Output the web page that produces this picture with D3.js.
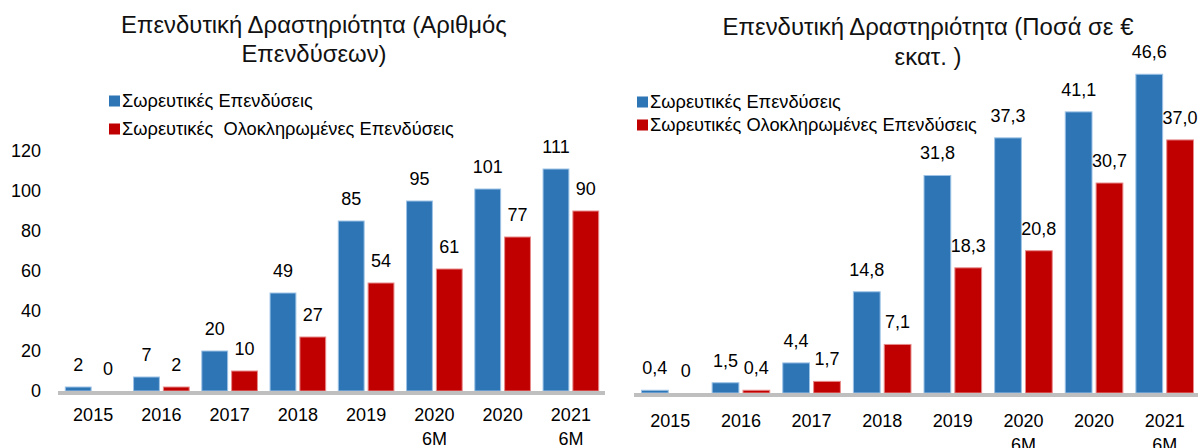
<!DOCTYPE html>
<html>
<head>
<meta charset="utf-8">
<script src="https://cdn.jsdelivr.net/npm/d3@7"></script>
<style>
  body { margin: 0; background: #fff; }
  svg { font-family: "Liberation Sans", Arial, sans-serif; fill: #000; }
  .label { font-size: 18px; text-anchor: middle; }
  .axis text { font-size: 18px; fill: #000; }
  .legend text { white-space: pre; }
</style>
</head>
<body>
<svg width="1198" height="448"></svg>
<script>
const categories = ["2015", "2016", "2017", "2018", "2019", "2020 6M", "2020", "2021 6M"];
const countTotal = [2, 7, 20, 49, 85, 95, 101, 111];
const countDone = [0, 2, 10, 27, 54, 61, 77, 90];
const amountTotal = [0.4, 1.5, 4.4, 14.8, 31.8, 37.3, 41.1, 46.6];
const amountDone = [0, 0.4, 1.7, 7.1, 18.3, 20.8, 30.7, 37.0];
const countTicks = [0, 20, 40, 60, 80, 100, 120];
const seriesKeys = ["total", "done"];
const colors = {total: "#2e75b6", done: "#c00000"};
const edges = {total: "#9dc3e6", done: "#e88a8a"};

const svg = d3.select("svg");

const commaFmt = (v) => v === 0 ? "0" : v.toFixed(1).replace(".", ",");

// size a text so that it spans about `width` px
const fitSize = (sel, width) => {
  sel.style("font-size", "100px");
  const w = sel.node().getComputedTextLength();
  const size = 100 * width / w;
  sel.style("font-size", size + "px");
  return size;
};

// one panel: title, legend, bars, labels, x axis
const drawPanel = (opt) => {
  const g = svg.append("g");

  const x = d3.scaleBand().domain(categories).range(opt.xRange)
    .paddingInner(0.17).paddingOuter(0.085);
  const xs = d3.scaleBand().domain(seriesKeys).range([0, x.bandwidth()]).paddingInner(0.1);
  const y = d3.scaleLinear().domain(opt.yDomain).range(opt.yRange);

  const rows = categories.map((c, i) => ({cat: c, total: opt.total[i], done: opt.done[i]}));

  const groups = g.selectAll(".grp").data(rows).enter().append("g")
    .attr("transform", (d) => "translate(" + x(d.cat) + ",0)");

  seriesKeys.forEach((k) => {
    groups.append("rect")
      .attr("x", xs(k) + 0.5)
      .attr("y", (d) => y(d[k]))
      .attr("width", xs.bandwidth() - 1)
      .attr("height", (d) => y(0) - y(d[k]))
      .attr("fill", colors[k])
      .attr("stroke", edges[k])
      .attr("stroke-width", 1);
    groups.append("text")
      .attr("class", "label")
      .attr("x", xs(k) + xs.bandwidth() / 2)
      .attr("y", (d) => y(d[k]) - 16)
      .text((d) => opt.fmt(d[k]));
  });

  // x axis, gray base line
  const gx = g.append("g")
    .attr("class", "axis")
    .attr("transform", "translate(0," + opt.axisY + ")")
    .call(d3.axisBottom(x).tickSize(0).tickSizeOuter(0));
  gx.select(".domain").attr("stroke", "#bfbfbf").attr("stroke-width", 4)
    .attr("d", "M" + opt.lineX[0] + ",0H" + opt.lineX[1]);
  gx.selectAll(".tick text").each(function(d) {
    const t = d3.select(this).text("").attr("y", opt.labelY).attr("dy", null);
    d.split(" ").forEach((part, i) => {
      t.append("tspan").attr("x", 0).attr("dy", i === 0 ? 0 : 24).text(part);
    });
  });

  if (opt.ticks) {
    const gy = g.append("g")
      .attr("class", "axis")
      .attr("transform", "translate(" + opt.yAxisX + ",0)")
      .call(d3.axisLeft(y).tickValues(opt.ticks).tickSize(0).tickPadding(0));
    gy.select(".domain").remove();
  }

  // title, two centred lines
  const titleLines = opt.title.map((line, i) =>
    g.append("text")
      .attr("text-anchor", "middle")
      .attr("x", opt.titleX).attr("y", opt.titleY[i])
      .attr("fill", "#111")
      .text(line));
  const ts = fitSize(titleLines[0], opt.titleWidth);
  titleLines[1].style("font-size", ts + "px");

  // legend
  const lg = g.append("g").attr("class", "legend");
  const legendTexts = opt.legend.map((name, i) => {
    const cy = opt.legendY[i];
    lg.append("rect")
      .attr("x", opt.legendX).attr("y", cy - 5.5)
      .attr("width", 11).attr("height", 11)
      .attr("fill", colors[seriesKeys[i]]);
    return lg.append("text")
      .attr("x", opt.legendX + 13).attr("y", cy + 6)
      .text(name);
  });
  const ls = fitSize(legendTexts[0], opt.legendWidth);
  legendTexts[1].style("font-size", ls + "px");
};

drawPanel({
  total: countTotal,
  done: countDone,
  fmt: (v) => String(v),
  xRange: [59, 605],
  yDomain: [0, 120],
  yRange: [391, 151],
  axisY: 393,
  lineX: [58, 605],
  labelY: 28,
  ticks: countTicks,
  yAxisX: 41,
  title: ["Επενδυτική Δραστηριότητα (Αριθμός", "Επενδύσεων)"],
  titleX: 314,
  titleY: [33, 62],
  titleWidth: 386,
  legend: ["Σωρευτικές Επενδύσεις", "Σωρευτικές  Ολοκληρωμένες Επενδύσεις"],
  legendX: 109,
  legendY: [101, 129],
  legendWidth: 191
});

drawPanel({
  total: amountTotal,
  done: amountDone,
  fmt: commaFmt,
  xRange: [635, 1200],
  yDomain: [0, 50],
  yRange: [393, 51],
  axisY: 395,
  lineX: [634, 1198],
  labelY: 32,
  ticks: null,
  title: ["Επενδυτική Δραστηριότητα (Ποσά σε €", "εκατ. )"],
  titleX: 928,
  titleY: [35, 65],
  titleWidth: 411,
  legend: ["Σωρευτικές Επενδύσεις", "Σωρευτικές Ολοκληρωμένες Επενδύσεις"],
  legendX: 637,
  legendY: [102, 125],
  legendWidth: 191
});
</script>
</body>
</html>
